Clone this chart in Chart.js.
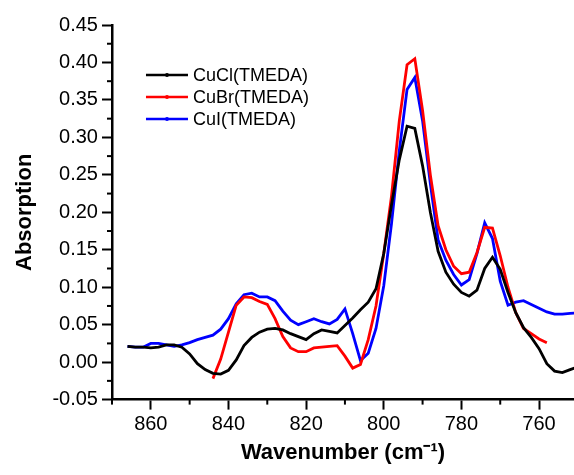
<!DOCTYPE html>
<html>
<head>
<meta charset="utf-8">
<script src="https://cdn.jsdelivr.net/npm/chart.js@4.4.1/dist/chart.umd.min.js"></script>
<style>
  html, body { margin: 0; padding: 0; background: #fff; }
  #wrap { width: 574px; height: 475px; }
</style>
</head>
<body>
<div id="wrap"><canvas id="spectrum"></canvas></div>
<script>
// data
const wavenumbers = [
  866, 864, 862, 860, 858, 856, 854, 852, 850, 848,
  846, 844, 842, 840, 838, 836, 834, 832, 830, 828,
  826, 824, 822, 820, 818, 816, 814, 812, 810, 808,
  806, 804, 802, 800, 798, 796, 794, 792, 790, 788,
  786, 784, 782, 780, 778, 776, 774, 772, 770, 768,
  766, 764, 762, 760, 758, 756, 754, 752, 750
]
const cuclValues = [
  0.021, 0.020, 0.020, 0.019, 0.020, 0.023, 0.023, 0.020, 0.011, -0.002,
  -0.010, -0.015, -0.016, -0.011, 0.003, 0.022, 0.033, 0.040, 0.044, 0.045,
  0.043, 0.038, 0.034, 0.030, 0.038, 0.043, 0.041, 0.039, 0.049, 0.059,
  0.070, 0.080, 0.098, 0.145, 0.210, 0.270, 0.315, 0.312, 0.262, 0.200,
  0.148, 0.120, 0.104, 0.093, 0.088, 0.096, 0.125, 0.140, 0.124, 0.093,
  0.066, 0.046, 0.033, 0.018, -0.002, -0.012, -0.014, -0.010, -0.006
]
const cubrValues = [
  null, null, null, null, null, null, null, null, null, null,
  null, -0.022, 0.004, 0.040, 0.076, 0.087, 0.086, 0.081, 0.077, 0.058,
  0.034, 0.019, 0.014, 0.014, 0.019, 0.020, 0.021, 0.022, 0.008, -0.008,
  -0.003, 0.030, 0.075, 0.145, 0.222, 0.322, 0.397, 0.405, 0.336, 0.250,
  0.182, 0.150, 0.128, 0.118, 0.120, 0.146, 0.180, 0.179, 0.142, 0.100,
  0.066, 0.045, 0.038, 0.031, 0.026, null, null, null, null
]
const cuiValues = [
  0.021, 0.020, 0.020, 0.025, 0.025, 0.023, 0.021, 0.023, 0.026, 0.030,
  0.033, 0.036, 0.044, 0.058, 0.078, 0.090, 0.092, 0.087, 0.087, 0.082,
  0.068, 0.056, 0.050, 0.054, 0.058, 0.054, 0.051, 0.057, 0.071, 0.038,
  0.002, 0.012, 0.045, 0.102, 0.185, 0.282, 0.364, 0.380, 0.322, 0.238,
  0.163, 0.136, 0.117, 0.103, 0.110, 0.145, 0.186, 0.165, 0.108, 0.076,
  0.080, 0.082, 0.077, 0.072, 0.067, 0.064, 0.064, 0.065, 0.066
]
const seriesLabels = ['CuCl(TMEDA)', 'CuBr(TMEDA)', 'CuI(TMEDA)']
const seriesColors = ['#000000', '#ff0000', '#0000ff']

// tick labels
const xTicks = [860, 840, 820, 800, 780, 760]
const xMinorTicks = [870, 850, 830, 810, 790, 770]
const yTicks = [-0.05, 0, 0.05, 0.1, 0.15, 0.2, 0.25, 0.3, 0.35, 0.4, 0.45]
const yMinorTicks = [-0.025, 0.025, 0.075, 0.125, 0.175, 0.225, 0.275, 0.325, 0.375, 0.425]

const FONT = "'Liberation Sans', Arial, sans-serif"

const toPoints = values => wavenumbers.map((x, i) => ({ x, y: values[i] }))

const series = [cuclValues, cubrValues, cuiValues].map((values, i) => ({
  label: seriesLabels[i],
  data: toPoints(values),
  borderColor: seriesColors[i],
  backgroundColor: seriesColors[i],
  borderWidth: 2.8,
  pointRadius: 0,
  tension: 0
}))

// short outward minor ticks, like the original plot
const minorTicks = {
  id: 'minorTicks',
  afterDraw(chart) {
    const { ctx, chartArea, scales } = chart
    ctx.save()
    ctx.strokeStyle = '#000'
    ctx.lineWidth = 2
    xMinorTicks.forEach(v => {
      const px = scales.x.getPixelForValue(v)
      ctx.beginPath()
      ctx.moveTo(px, chartArea.bottom)
      ctx.lineTo(px, chartArea.bottom + 5)
      ctx.stroke()
    })
    yMinorTicks.forEach(v => {
      const py = scales.y.getPixelForValue(v)
      ctx.beginPath()
      ctx.moveTo(chartArea.left, py)
      ctx.lineTo(chartArea.left - 5, py)
      ctx.stroke()
    })
    ctx.restore()
  }
}

// legend inside the plot, line with a small symbol
const innerLegend = {
  id: 'innerLegend',
  afterDatasetsDraw(chart) {
    const { ctx, chartArea } = chart
    const x0 = chartArea.left + 34
    const x1 = chartArea.left + 76
    ctx.save()
    ctx.font = '18px ' + FONT
    ctx.textBaseline = 'middle'
    chart.data.datasets.forEach((ds, i) => {
      const y = chartArea.top + 50 + i * 22
      ctx.strokeStyle = ds.borderColor
      ctx.lineWidth = 2.5
      ctx.beginPath()
      ctx.moveTo(x0, y)
      ctx.lineTo(x1, y)
      ctx.stroke()
      ctx.fillStyle = ds.borderColor
      ctx.beginPath()
      ctx.arc((x0 + x1) / 2, y, 2, 0, Math.PI * 2)
      ctx.fill()
      ctx.fillStyle = '#000'
      ctx.fillText(ds.label, x1 + 5, y + 1)
    })
    ctx.restore()
  }
}

new Chart(document.getElementById('spectrum'), {
  type: 'line',
  data: { datasets: series },
  plugins: [minorTicks, innerLegend],
  options: {
    responsive: true,
    maintainAspectRatio: false,
    animation: false,
    layout: { padding: { left: 8, top: 25, right: 0, bottom: 0 } },
    plugins: {
      legend: { display: false },
      tooltip: { enabled: false }
    },
    scales: {
      x: {
        type: 'linear',
        reverse: true,
        min: 751,
        max: 870,
        afterBuildTicks: scale => { scale.ticks = xTicks.map(value => ({ value })) },
        grid: { drawOnChartArea: false, tickLength: 10, tickWidth: 2, tickColor: '#000' },
        border: { color: '#000', width: 2.5 },
        ticks: {
          color: '#000',
          padding: 3,
          maxRotation: 0,
          font: { family: FONT, size: 20 },
          callback: v => String(v)
        },
        title: {
          display: true,
          text: 'Wavenumber (cm⁻¹)',
          color: '#000',
          padding: { top: 0, bottom: 9 },
          font: { family: FONT, size: 22, weight: 'bold' }
        }
      },
      y: {
        min: -0.05,
        max: 0.45,
        afterBuildTicks: scale => { scale.ticks = yTicks.map(value => ({ value })) },
        grid: { drawOnChartArea: false, tickLength: 10, tickWidth: 2, tickColor: '#000' },
        border: { color: '#000', width: 2.5 },
        ticks: {
          color: '#000',
          padding: 4,
          font: { family: FONT, size: 20 },
          callback: v => v.toFixed(2)
        },
        title: {
          display: true,
          text: 'Absorption',
          color: '#000',
          padding: { top: 4, bottom: 10 },
          font: { family: FONT, size: 22, weight: 'bold' }
        }
      }
    }
  }
})
</script>
</body>
</html>
